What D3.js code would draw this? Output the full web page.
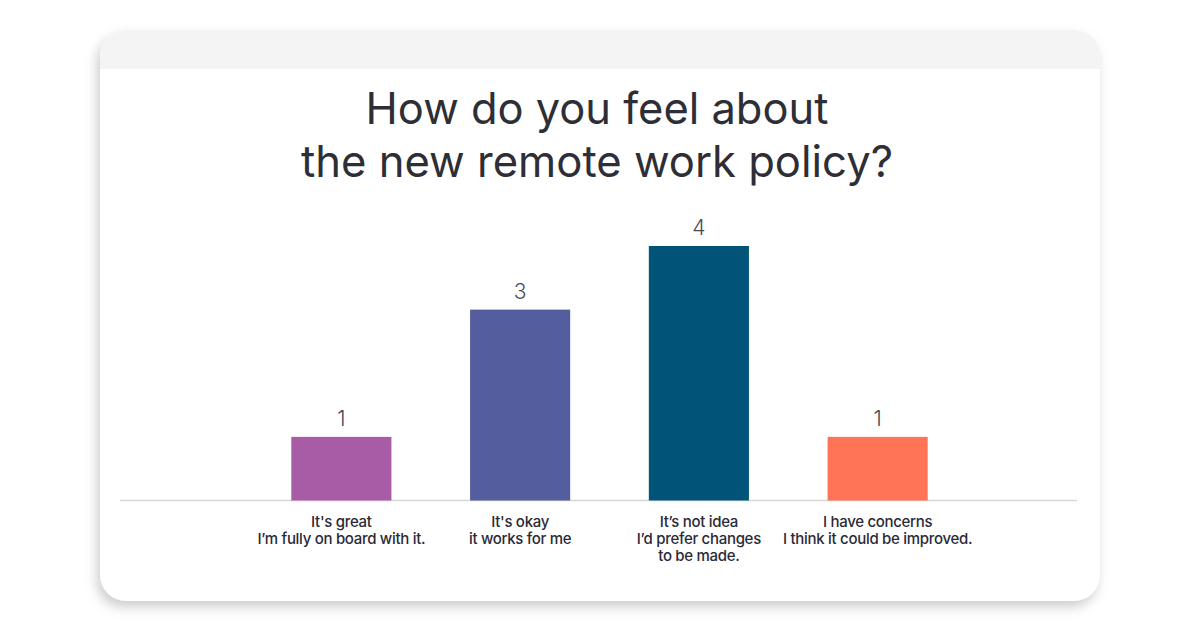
<!doctype html><html><head>
<style>
  html, body { margin: 0; padding: 0; background: #ffffff; }
  svg { display: block; font-family: "Inter", "Lato", sans-serif; }
</style>
</head><body><script src='https://d3js.org/d3.v7.min.js'></script>

<script>
// size of the picture
const width  = 1200;  const height = 630;

// data
const titleLines = ["How do you feel about", "the new remote work policy?"];
const categories = ["great", "okay", "notIdeal", "concerns"];
const catLabels  = [
  ["It's great", "I\u2019m fully on board with it."],
  ["It's okay", "it works for me"],
  ["It\u2019s not idea", "I\u2019d prefer changes", "to be made."],
  ["I have concerns", "I think it could be improved."]
];
const values     = [1, 3, 4, 1];
const barColors  = ["#a85ca6", "#545e9f", "#015478", "#ff7357"];

// card
const card = { x: 100, y: 30, w: 1000, h: 571, r: 26 };

const svg = d3.select("body")
              .append("svg")
              .attr("width", width)
              .attr("height", height);

const defs = svg.append("defs");
const shadow = defs.append("filter")
   .attr("id", "shadow")
   .attr("x", "-10%").attr("y", "-10%")
   .attr("width", "120%").attr("height", "130%");
shadow.append("feDropShadow")
   .attr("dx", -3).attr("dy", 6)
   .attr("stdDeviation", 6)
   .attr("flood-color", "#8f8f8f")
   .attr("flood-opacity", 0.45);

defs.append("clipPath").attr("id", "cardClip")
   .append("rect")
   .attr("x", card.x).attr("y", card.y)
   .attr("width", card.w).attr("height", card.h)
   .attr("rx", card.r);

// white card with shadow
svg.append("rect")
   .attr("x", card.x).attr("y", card.y)
   .attr("width", card.w).attr("height", card.h)
   .attr("rx", card.r)
   .attr("fill", "#ffffff")
   .attr("filter", "url(#shadow)");

// grey band on top of the card
svg.append("rect")
   .attr("clip-path", "url(#cardClip)")
   .attr("x", card.x).attr("y", card.y)
   .attr("width", card.w).attr("height", 39)
   .attr("fill", "#f4f4f4");

// title, fitted to the widths seen in the reference
const titleWidths = [463, 592];
titleLines.forEach((line, i) => {
  const t = svg.append("text")
     .attr("x", 597)
     .attr("y", 124 + i * 53)
     .attr("text-anchor", "middle")
     .attr("fill", "#2e2e36")
     .attr("font-size", 42)
     .attr("font-weight", 400)
     .text(line);
  const len = t.node().getComputedTextLength();
  t.attr("font-size", 42 * titleWidths[i] / len);
});

// scales
const x = d3.scaleBand()
            .domain(categories)
            .range([252, 967])
            .paddingInner(0.44)
            .paddingOuter(0.22);

const y = d3.scaleLinear()
            .domain([0, 4])
            .range([500.5, 246]);

// baseline
svg.append("line")
   .attr("x1", 120).attr("x2", 1077)
   .attr("y1", y(0)).attr("y2", y(0))
   .attr("stroke", "#d6d6d6")
   .attr("stroke-width", 1.5);

// bars
svg.append("g")
   .selectAll("rect")
   .data(values)
   .join("rect")
   .attr("x", (d, i) => x(categories[i]))
   .attr("y", d => y(d))
   .attr("width", x.bandwidth())
   .attr("height", d => y(0) - y(d))
   .attr("fill", (d, i) => barColors[i]);

// value labels
svg.append("g")
   .selectAll("text")
   .data(values)
   .join("text")
   .attr("x", (d, i) => x(categories[i]) + x.bandwidth() / 2)
   .attr("y", d => y(d) - 11)
   .attr("text-anchor", "middle")
   .attr("fill", "#4a4a55")
   .attr("font-size", 21)
   .attr("font-weight", 300)
   .text(d => d);

// category labels (x axis)
const labels = svg.append("g")
   .selectAll("text")
   .data(catLabels)
   .join("text")
   .attr("text-anchor", "middle")
   .attr("fill", "#2a2a38")
   .attr("font-size", 15)
   .attr("font-weight", 500)
   .attr("letter-spacing", -0.3);

labels.each(function(lines, i) {
  const cx = x(categories[i]) + x.bandwidth() / 2;
  d3.select(this).selectAll("tspan")
    .data(lines)
    .join("tspan")
    .attr("x", cx)
    .attr("y", (d, j) => 527 + j * 17)
    .text(d => d);
});

</script></body></html>
